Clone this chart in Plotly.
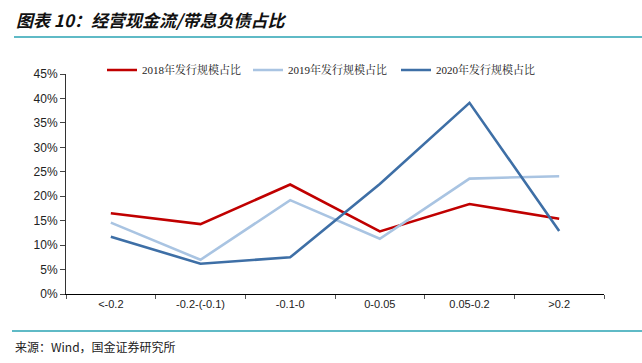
import plotly.graph_objects as go

categories = ["<-0.2", "-0.2-(-0.1)", "-0.1-0", "0-0.05", "0.05-0.2", ">0.2"]
series_names = ["2018年发行规模占比", "2019年发行规模占比", "2020年发行规模占比"]
values_2018 = [0.165, 0.143, 0.224, 0.128, 0.184, 0.154]
values_2019 = [0.146, 0.070, 0.192, 0.113, 0.236, 0.241]
values_2020 = [0.117, 0.062, 0.075, 0.225, 0.391, 0.129]
colors = ["#C00000", "#A9C4E2", "#3E6FA6"]

W, H = 642, 363
L, R, T, B = 66, 38, 74, 69
PW = W - L - R
PH = H - T - B


def px_x(p):
    return (p - L) / PW


def px_y(p):
    return (H - B - p) / PH


legend_ids = ["legend", "legend2", "legend3"]
legend_left_px = [102, 248, 396]

fig = go.Figure()
for name, vals, c, lg in zip(series_names, [values_2018, values_2019, values_2020], colors, legend_ids):
    fig.add_trace(go.Scatter(x=categories, y=vals, name=name, mode="lines", legend=lg,
                             line=dict(color=c, width=2.6)))

legend_font = dict(family="Liberation Serif, Noto Serif CJK SC, Noto Sans CJK SC", size=11, color="#222")
legend_layout = {}
for lg, lx in zip(legend_ids, legend_left_px):
    legend_layout[lg] = dict(orientation="h", x=px_x(lx), y=px_y(70), xanchor="left", yanchor="middle",
                             itemwidth=30, font=legend_font, bgcolor="rgba(0,0,0,0)")

teal = "#2AA3B3"
fig.update_layout(
    width=W, height=H,
    margin=dict(l=L, r=R, t=T, b=B, pad=0, autoexpand=False),
    paper_bgcolor="white", plot_bgcolor="white",
    showlegend=True,
    xaxis=dict(type="category", tickson="boundaries", ticks="outside", ticklen=4,
               tickcolor="#555", showline=True, linecolor="black", linewidth=1,
               showgrid=False, tickfont=dict(family="Liberation Sans, Arial", size=11, color="#222"),
               range=[-0.5, 5.5]),
    yaxis=dict(range=[0, 0.45], dtick=0.05, tickformat=".0%", ticks="outside", ticklen=5,
               tickcolor="#444", showline=True, linecolor="#333", linewidth=1,
               showgrid=False, zeroline=False,
               tickfont=dict(family="Liberation Sans, Arial", size=12, color="#222")),
    shapes=[
        dict(type="line", xref="paper", yref="paper", x0=px_x(14), x1=px_x(642),
             y0=px_y(37), y1=px_y(37), line=dict(color=teal, width=1.5)),
        dict(type="line", xref="paper", yref="paper", x0=px_x(12), x1=px_x(642),
             y0=px_y(331), y1=px_y(331), line=dict(color=teal, width=1.5)),
    ],
    annotations=[
        dict(xref="paper", yref="paper", x=px_x(14), y=px_y(19), xanchor="left", yanchor="middle",
             text="<b><i>图表 10：经营现金流/带息负债占比</i></b>", showarrow=False,
             font=dict(family="Noto Sans CJK SC", size=17, color="#111")),
        dict(xref="paper", yref="paper", x=px_x(13), y=px_y(346), xanchor="left", yanchor="middle",
             text="来源：Wind，国金证券研究所", showarrow=False,
             font=dict(family="Noto Sans CJK SC", size=12, color="#222")),
    ],
    **legend_layout,
)

fig.write_html("out.html", config={"displayModeBar": False},
               post_script="document.body.style.margin='0';document.body.style.overflow='hidden';")
